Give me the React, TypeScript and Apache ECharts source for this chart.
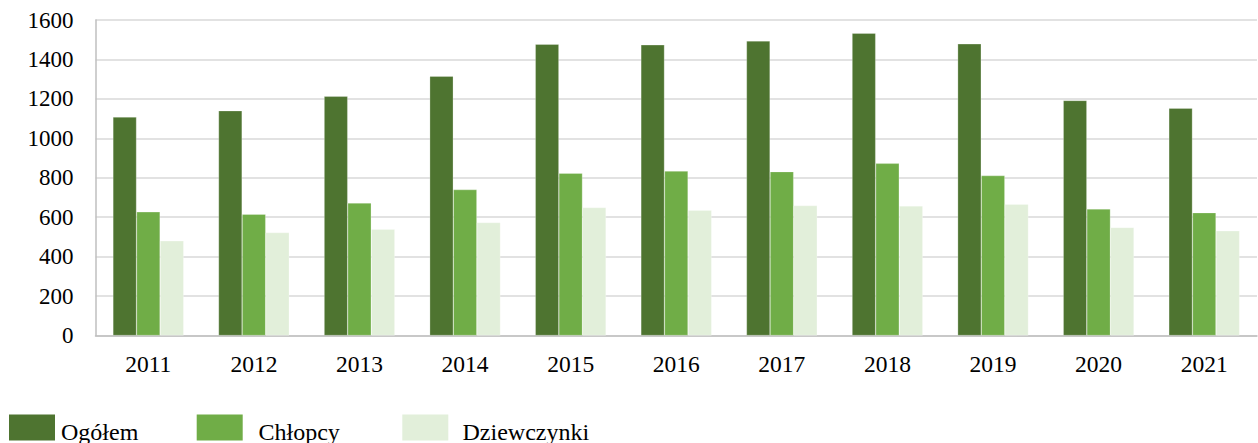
import React, { useEffect, useRef } from "react";
import * as echarts from "echarts";

const years = ["2011", "2012", "2013", "2014", "2015", "2016", "2017", "2018", "2019", "2020", "2021"];
const ogolem = [1108, 1140, 1213, 1315, 1477, 1474, 1494, 1533, 1479, 1192, 1153];
const chlopcy = [627, 615, 672, 740, 823, 834, 831, 873, 811, 642, 623];
const dziewczynki = [480, 522, 539, 573, 649, 635, 659, 657, 666, 548, 531];
const seriesNames = ["Ogółem", "Chłopcy", "Dziewczynki"];
const colors = ["#4E7430", "#70AD47", "#E2EFDA"];

const FONT = "Liberation Serif";

// legend layout (positions only)
const legendIconX = [9, 196.7, 402.3];
const legendTextX = [61, 258.5, 462.5];

export default function App() {
  const ref = useRef<HTMLDivElement>(null);
  useEffect(() => {
    document.body.style.margin = "0";
    const chart = echarts.init(ref.current!, null, { renderer: "svg" });
    const data = [ogolem, chlopcy, dziewczynki];
    const legendGraphics: any[] = [];
    seriesNames.forEach((name, i) => {
      legendGraphics.push({
        type: "rect",
        shape: { x: legendIconX[i], y: 414.5, width: 46, height: 26 },
        style: { fill: colors[i] },
        silent: true,
      });
      legendGraphics.push({
        type: "text",
        x: legendTextX[i],
        y: 432,
        style: {
          text: name,
          font: `24px ${FONT}`,
          fill: "#000",
          verticalAlign: "middle",
          align: "left",
        },
        silent: true,
      });
    });
    chart.setOption({
      animation: false,
      color: colors,
      textStyle: { fontFamily: FONT },
      grid: { left: 95.5, top: 20, right: 1, bottom: 107.5, containLabel: false },
      legend: { show: false, data: seriesNames },
      graphic: legendGraphics,
      xAxis: {
        type: "category",
        data: years,
        axisLine: { show: true, lineStyle: { color: "#BFBFBF", width: 1.5 } },
        axisTick: { show: false },
        axisLabel: { fontFamily: FONT, fontSize: 23.5, color: "#000", margin: 16 },
      },
      yAxis: {
        type: "value",
        min: 0,
        max: 1600,
        interval: 200,
        axisLine: { show: true, lineStyle: { color: "#BFBFBF", width: 1.5 } },
        axisTick: { show: false },
        splitLine: { lineStyle: { color: "#D9D9D9", width: 1.5 } },
        axisLabel: {
          fontFamily: FONT,
          fontSize: 23,
          color: "#000",
          margin: 22,
          formatter: (v: number) => String(v),
        },
      },
      series: seriesNames.map((name, i) => ({
        name,
        type: "bar",
        data: data[i],
        barGap: "0%",
        barCategoryGap: "33%",
        itemStyle: { color: colors[i], borderColor: "rgba(255,255,255,0.5)", borderWidth: 0.5 },
      })),
    });
    return () => chart.dispose();
  }, []);
  return <div ref={ref} style={{ width: 1258, height: 443 }} />;
}
